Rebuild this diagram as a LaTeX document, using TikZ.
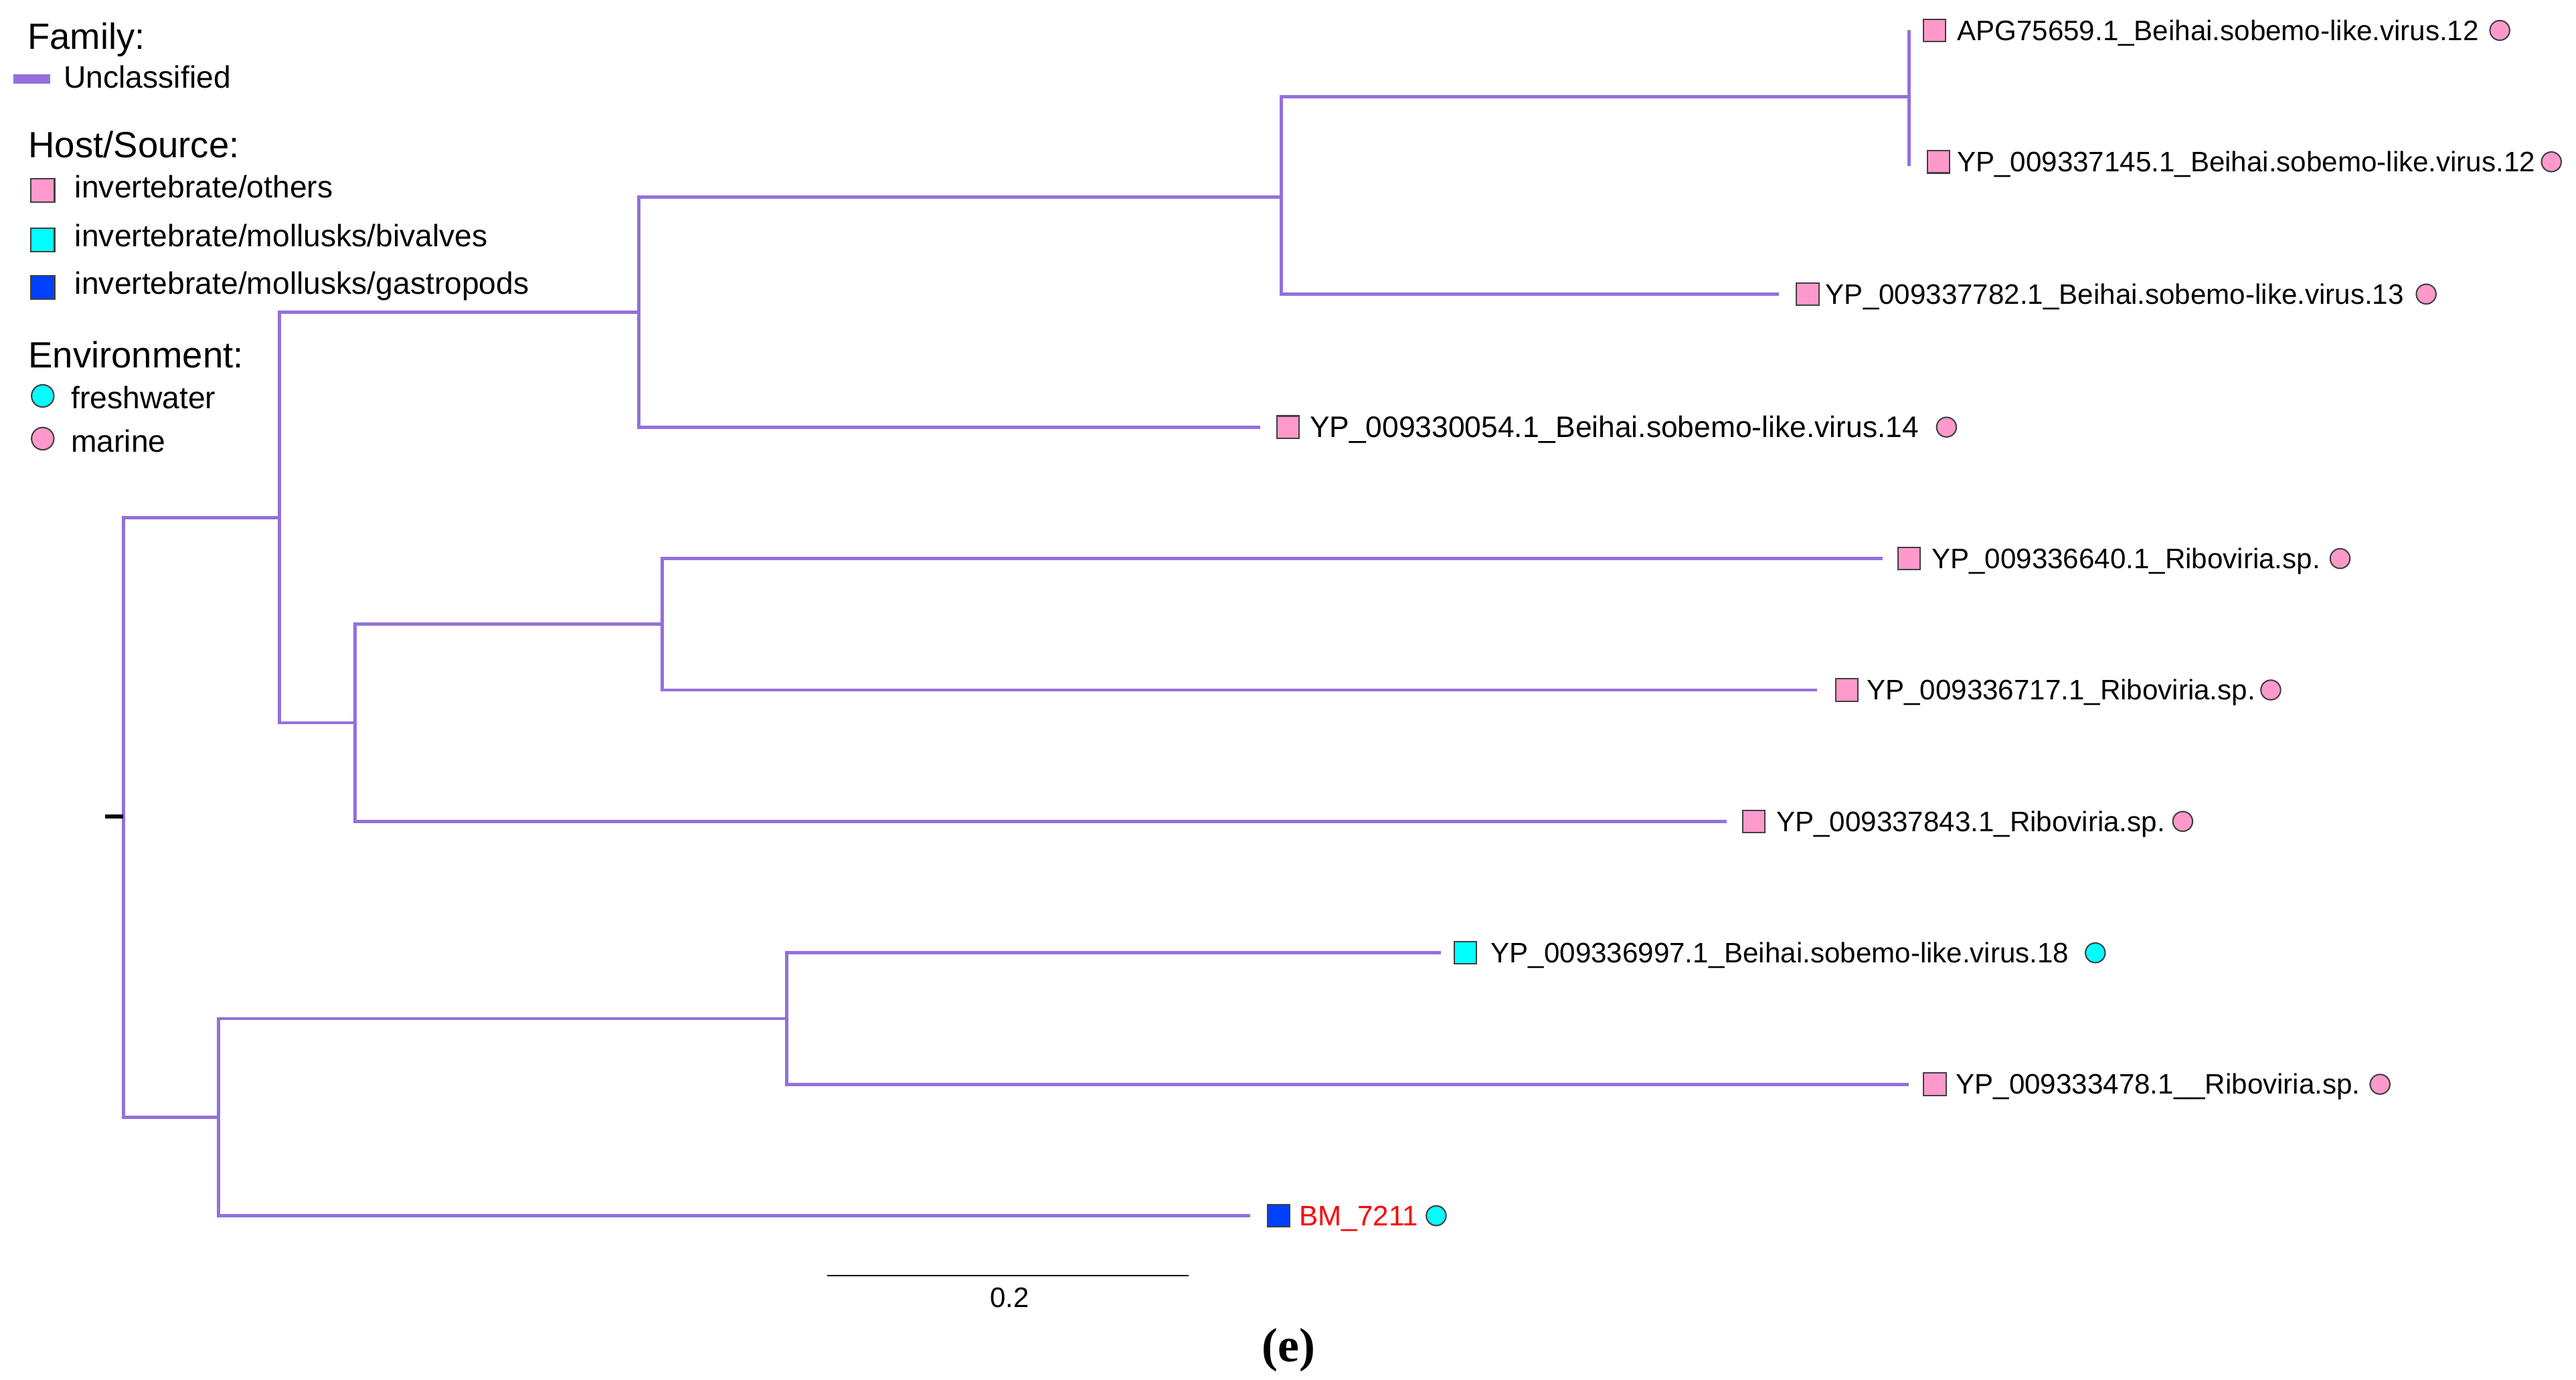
\documentclass[tikz,border=0pt]{standalone}
\usepackage{fontspec}
\setmainfont{Liberation Sans}
\newfontfamily\panelfont{Liberation Serif}
\definecolor{branchpurple}{RGB}{147,112,219}
\definecolor{hostpink}{RGB}{255,153,204}
\definecolor{hostcyan}{RGB}{0,255,255}
\definecolor{hostblue}{RGB}{0,64,255}
\begin{document}
\begin{tikzpicture}[x=0.025cm,y=-0.025cm,
  branch/.style={draw=branchpurple,line width=1.4pt},
  hostbox/.style={rectangle,draw=black!75,line width=0.6pt,inner sep=0pt,minimum size=0.34cm},
  envdot/.style={circle,draw=black!75,line width=0.6pt,inner sep=0pt,minimum size=0.3cm},
  legbox/.style={hostbox,minimum size=0.36cm},
  legdot/.style={envdot,minimum size=0.34cm},
  tiplabel/.style={anchor=base west,inner sep=0pt,font=\fontsize{12.2pt}{14pt}\selectfont},
  legtitle/.style={anchor=base west,inner sep=0pt,font=\fontsize{15.8pt}{18pt}\selectfont},
  legitem/.style={anchor=base west,inner sep=0pt,font=\fontsize{13.4pt}{16pt}\selectfont}]
\useasboundingbox (0,0) rectangle (1568,840);

\node[legtitle] (famtitle) at (16.5,30) {Family:};
\coordinate (fam1) at (8,48);
\coordinate (fam2) at (30.5,48);
\draw[draw=branchpurple,line width=3.9pt] (fam1) -- (fam2);
\node[legitem] (famlab) at (38.6,53.7) {Unclassified};
\node[legtitle] (hosttitle) at (17,96) {Host/Source:};
\node[legbox,fill=hostpink] (hostbox1) at (26,116) {};
\node[legitem] (hostlab1) at (45.3,120.4) {invertebrate/others};
\node[legbox,fill=hostcyan] (hostbox2) at (26,146) {};
\node[legitem] (hostlab2) at (45.3,150) {invertebrate/mollusks/bivalves};
\node[legbox,fill=hostblue] (hostbox3) at (26,175) {};
\node[legitem] (hostlab3) at (45.3,179) {invertebrate/mollusks/gastropods};
\node[legtitle] (envtitle) at (17,224) {Environment:};
\node[legdot,fill=hostcyan] (envdot1) at (26,241) {};
\node[legitem] (envlab1) at (43,248.8) {freshwater};
\node[legdot,fill=hostpink] (envdot2) at (26,267) {};
\node[legitem] (envlab2) at (43,275) {marine};

\coordinate (rtick) at (64,497);
\coordinate (root) at (75,497);
\coordinate (nU) at (170,315);
\coordinate (nL) at (133,680);
\coordinate (nUA) at (389,190);
\coordinate (nUB) at (216,440);
\coordinate (nUAA) at (780,120);
\coordinate (nUAAA) at (1162,59);
\coordinate (nUBA) at (403,380);
\coordinate (nLA) at (479,620);
\coordinate (t1) at (1162,18.5);
\coordinate (t2) at (1163,100);
\coordinate (t3) at (1083,179);
\coordinate (t4) at (767,260);
\coordinate (t5) at (1146,340);
\coordinate (t6) at (1106,420);
\coordinate (t7) at (1051,500);
\coordinate (t8) at (877,580);
\coordinate (t9) at (1162,660);
\coordinate (t10) at (761,740);

\draw[branch] (nU) -| (root) |- (nL);
\draw[branch] (nUA) -| (nU) |- (nUB);
\draw[branch] (nUAA) -| (nUA) |- (t4);
\draw[branch] (nUAAA) -| (nUAA) |- (t3);
\draw[branch] (t1) -| (nUAAA) |- (t2);
\draw[branch] (nUBA) -| (nUB) |- (t7);
\draw[branch] (t5) -| (nUBA) |- (t6);
\draw[branch] (nLA) -| (nL) |- (t10);
\draw[branch] (t8) -| (nLA) |- (t9);
\draw[line width=1.6pt] (rtick) -- (root);

\node[hostbox,fill=hostpink] (t1box) at (1177.5,18.5) {};
\node[tiplabel] (t1lab) at (1191,24.5) {APG75659.1\_Beihai.sobemo-like.virus.12};
\node[envdot,fill=hostpink] (t1env) at (1521.6,18.5) {};
\node[hostbox,fill=hostpink] (t2box) at (1180,98.5) {};
\node[tiplabel] (t2lab) at (1191,104.5) {YP\_009337145.1\_Beihai.sobemo-like.virus.12};
\node[envdot,fill=hostpink] (t2env) at (1553,98.5) {};
\node[hostbox,fill=hostpink] (t3box) at (1100.3,179) {};
\node[tiplabel] (t3lab) at (1111,185) {YP\_009337782.1\_Beihai.sobemo-like.virus.13};
\node[envdot,fill=hostpink] (t3env) at (1476.8,179) {};
\node[hostbox,fill=hostpink] (t4box) at (784,260) {};
\node[tiplabel,font=\fontsize{12.85pt}{15pt}\selectfont] (t4lab) at (797,266.3) {YP\_009330054.1\_Beihai.sobemo-like.virus.14};
\node[envdot,fill=hostpink] (t4env) at (1184.8,260) {};
\node[hostbox,fill=hostpink] (t5box) at (1162,340) {};
\node[tiplabel] (t5lab) at (1175.5,346) {YP\_009336640.1\_Riboviria.sp.};
\node[envdot,fill=hostpink] (t5env) at (1424.4,340) {};
\node[hostbox,fill=hostpink] (t6box) at (1124.2,420) {};
\node[tiplabel] (t6lab) at (1136,426) {YP\_009336717.1\_Riboviria.sp.};
\node[envdot,fill=hostpink] (t6env) at (1382.2,420) {};
\node[hostbox,fill=hostpink] (t7box) at (1067.5,500) {};
\node[tiplabel] (t7lab) at (1081,506) {YP\_009337843.1\_Riboviria.sp.};
\node[envdot,fill=hostpink] (t7env) at (1328.6,500) {};
\node[hostbox,fill=hostcyan] (t8box) at (891.9,580) {};
\node[tiplabel] (t8lab) at (907.2,586) {YP\_009336997.1\_Beihai.sobemo-like.virus.18};
\node[envdot,fill=hostcyan] (t8env) at (1275.4,580) {};
\node[hostbox,fill=hostpink] (t9box) at (1177.7,660) {};
\node[tiplabel] (t9lab) at (1190.3,666) {YP\_009333478.1\_\_Riboviria.sp.};
\node[envdot,fill=hostpink] (t9env) at (1448.7,660) {};
\node[hostbox,fill=hostblue] (t10box) at (778.2,740) {};
\node[tiplabel,text=red] (t10lab) at (790.7,746) {BM\_7211};
\node[envdot,fill=hostcyan] (t10env) at (874.2,740) {};

\coordinate (sb1) at (503.6,776.5);
\coordinate (sb2) at (723.4,776.5);
\draw[line width=0.7pt] (sb1) -- (sb2);
\node[anchor=base,inner sep=0pt,font=\fontsize{12.2pt}{14pt}\selectfont] (sblab) at (614.6,796) {0.2};
\node[anchor=base,inner sep=0pt,font=\panelfont\bfseries\fontsize{20.8pt}{24pt}\selectfont] (panel) at (784.5,829) {(e)};
\end{tikzpicture}
\end{document}
